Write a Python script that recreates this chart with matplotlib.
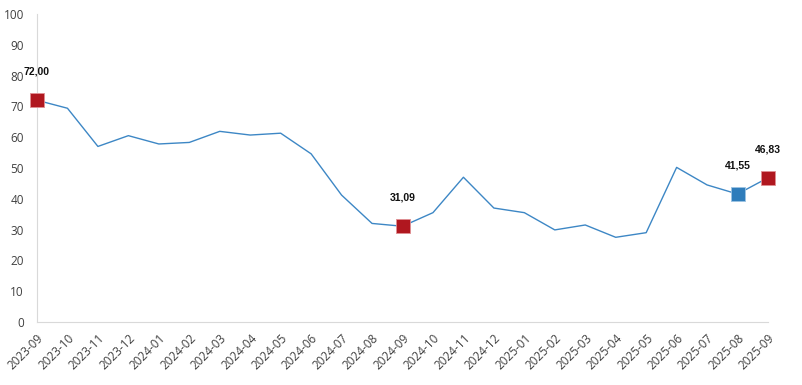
import matplotlib
matplotlib.use("Agg")
import matplotlib.pyplot as plt

months = ["2023-09", "2023-10", "2023-11", "2023-12", "2024-01", "2024-02", "2024-03",
          "2024-04", "2024-05", "2024-06", "2024-07", "2024-08", "2024-09", "2024-10",
          "2024-11", "2024-12", "2025-01", "2025-02", "2025-03", "2025-04", "2025-05",
          "2025-06", "2025-07", "2025-08", "2025-09"]
values = [72.00, 69.4, 57.0, 60.5, 57.8, 58.3, 61.9, 60.7, 61.3, 54.6, 41.2, 32.0, 31.09,
          35.5, 47.0, 37.0, 35.5, 29.9, 31.5, 27.5, 29.0, 50.2, 44.5, 41.55, 46.83]
red_idx = [0, 12, 24]
blue_idx = [23]
labels = {0: "72,00", 12: "31,09", 23: "41,55", 24: "46,83"}

fig = plt.figure(figsize=(8.02, 3.85), dpi=100)
ax = fig.add_axes([37/802, 1 - 322/385, (768-37)/802, (322-14)/385])

x = list(range(len(months)))
ax.plot(x, values, color="#3d87c5", lw=1.0, zorder=2)
ax.scatter([x[i] for i in red_idx], [values[i] for i in red_idx], marker="s", s=110,
           color="#b0171f", edgecolors="#e08f93", linewidths=0.6, zorder=3, clip_on=False)
ax.scatter([x[i] for i in blue_idx], [values[i] for i in blue_idx], marker="s", s=110,
           color="#2f7dbb", edgecolors="#9cc3e3", linewidths=0.6, zorder=3, clip_on=False)
for i, t in labels.items():
    ax.annotate(t, (x[i], values[i]), xytext=(0, 17), textcoords="offset points",
                ha="center", va="bottom", fontsize=7.5, fontweight="bold",
                family="Liberation Sans", color="#111111")

ax.set_xlim(0, 24)
ax.set_ylim(0, 100)
ax.set_yticks(range(0, 101, 10))
ax.set_xticks(x)
ax.set_xticklabels(months, rotation=45, ha="right", rotation_mode="anchor")
for lab in ax.get_xticklabels() + ax.get_yticklabels():
    lab.set_family("Open Sans")
    lab.set_fontsize(8.5)
    lab.set_color("#404040")
ax.tick_params(axis="both", length=0)
ax.tick_params(axis="y", pad=9.5)
ax.tick_params(axis="x", pad=7)
for s in ["top", "right"]:
    ax.spines[s].set_visible(False)
for s in ["left", "bottom"]:
    ax.spines[s].set_color("#d9d9d9")
    ax.spines[s].set_linewidth(0.8)

fig.savefig("out.png", dpi=100)
